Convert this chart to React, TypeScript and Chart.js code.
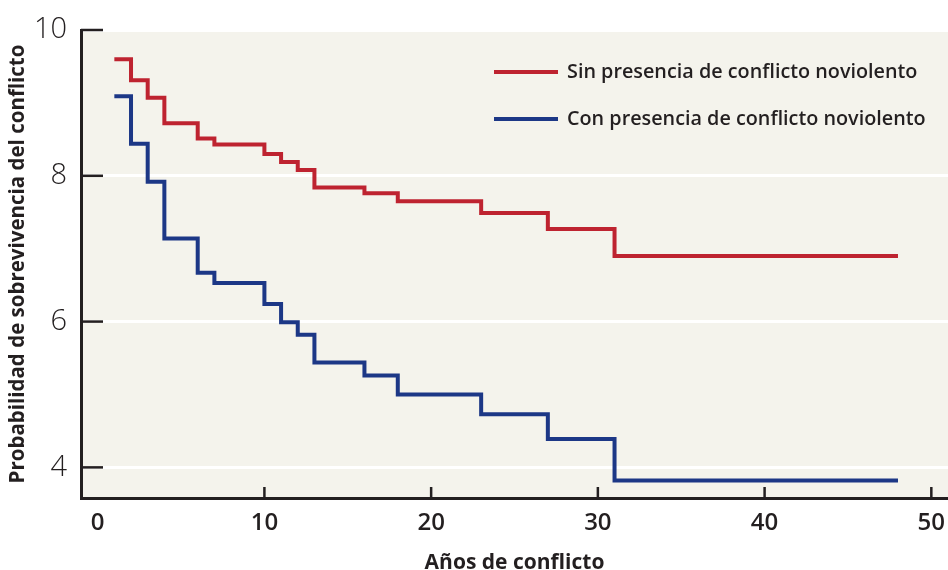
import React, { useEffect, useRef } from 'react';
import { Chart, registerables } from 'chart.js';

Chart.register(...registerables);

// ---- data ----
const years = [1, 2, 3, 4, 6, 7, 10, 11, 12, 13, 16, 18, 23, 27, 31, 48];
const sinConflicto = [9.6, 9.31, 9.07, 8.72, 8.51, 8.43, 8.3, 8.19, 8.08, 7.84, 7.76, 7.65, 7.49, 7.27, 6.9, 6.9];
const conConflicto = [9.09, 8.44, 7.92, 7.14, 6.67, 6.53, 6.24, 5.99, 5.82, 5.44, 5.26, 5.0, 4.73, 4.39, 3.82, 3.82];
const seriesLabels = ['Sin presencia de conflicto noviolento', 'Con presencia de conflicto noviolento'];
const xTicks = [0, 10, 20, 30, 40, 50];
const yTicks = [4, 6, 8, 10];
const xTitle = 'Años de conflicto';
const yTitle = 'Probabilidad de sobrevivencia del conflicto';

const INK = '#231f20';
const RED = '#be2330';
const BLUE = '#1c3786';
const BG = '#f4f3ec';
const FONT = '"Open Sans", sans-serif';

const bgPlugin = {
  id: 'plotBg',
  beforeDraw(chart: any) {
    const { ctx, chartArea: a } = chart;
    ctx.save();
    ctx.fillStyle = BG;
    ctx.fillRect(a.left, a.top, a.right - a.left, a.bottom - a.top);
    ctx.restore();
  },
};

const tickPlugin = {
  id: 'innerTicks',
  afterDraw(chart: any) {
    const { ctx, chartArea: a, scales } = chart;
    ctx.save();
    ctx.strokeStyle = INK;
    ctx.lineWidth = 2.5;
    yTicks.forEach((v) => {
      const y = scales.y.getPixelForValue(v);
      ctx.beginPath();
      ctx.moveTo(a.left, y);
      ctx.lineTo(a.left + 22, y);
      ctx.stroke();
    });
    xTicks.filter((v) => v !== 0).forEach((v) => {
      const x = scales.x.getPixelForValue(v);
      ctx.beginPath();
      ctx.moveTo(x, a.bottom);
      ctx.lineTo(x, a.bottom - 11);
      ctx.stroke();
    });
    ctx.restore();
  },
};

const legendPlugin = {
  id: 'inlineLegend',
  afterDraw(chart: any) {
    const { ctx } = chart;
    ctx.save();
    chart.data.datasets.forEach((ds: any, i: number) => {
      const y = 72 + i * 47;
      ctx.strokeStyle = ds.borderColor;
      ctx.lineWidth = 4;
      ctx.beginPath();
      ctx.moveTo(494, y);
      ctx.lineTo(558, y);
      ctx.stroke();
      ctx.fillStyle = INK;
      ctx.font = `600 19.8px ${FONT}`;
      ctx.textBaseline = 'middle';
      ctx.textAlign = 'left';
      ctx.fillText(ds.label, 567, y);
    });
    ctx.restore();
  },
};

const zeroPad = (s: any) => {
  s.paddingLeft = 0;
  s.paddingRight = 0;
  s.paddingTop = 0;
  s.paddingBottom = 0;
};

export default function App() {
  const ref = useRef<HTMLCanvasElement | null>(null);

  useEffect(() => {
    document.body.style.margin = '0';
    const canvas = ref.current!;
    const chart = new Chart(canvas, {
      type: 'line',
      data: {
        datasets: [
          {
            label: seriesLabels[0],
            data: years.map((x, i) => ({ x, y: sinConflicto[i] })),
            borderColor: RED,
            backgroundColor: RED,
          },
          {
            label: seriesLabels[1],
            data: years.map((x, i) => ({ x, y: conConflicto[i] })),
            borderColor: BLUE,
            backgroundColor: BLUE,
          },
        ].map((d) => ({
          ...d,
          stepped: 'before' as const,
          borderWidth: 4,
          pointRadius: 0,
          fill: false,
          borderJoinStyle: 'miter' as const,
          borderCapStyle: 'butt' as const,
          tension: 0,
        })),
      },
      options: {
        animation: false,
        responsive: false,
        maintainAspectRatio: false,
        layout: { padding: { top: 30, right: 0, left: 0, bottom: 0 } },
        font: { family: FONT },
        plugins: {
          legend: { display: false },
          tooltip: { enabled: false },
        },
        scales: {
          x: {
            type: 'linear',
            min: -1,
            max: 51,
            afterBuildTicks: (s: any) => {
              s.ticks = xTicks.map((v) => ({ value: v }));
            },
            afterFit: (s: any) => {
              s.height = 72;
              zeroPad(s);
            },
            grid: { display: false, drawTicks: false },
            border: { display: true, color: INK, width: 3 },
            ticks: {
              padding: 11,
              color: INK,
              font: { family: FONT, size: 24, weight: 600 },
            },
            title: {
              display: true,
              text: xTitle,
              color: INK,
              font: { family: FONT, size: 21, weight: 'bold', lineHeight: 0.62 },
              padding: { top: 0, bottom: 0 },
            },
          },
          y: {
            type: 'linear',
            min: 3.58,
            max: 10,
            afterBuildTicks: (s: any) => {
              s.ticks = yTicks.map((v) => ({ value: v }));
            },
            afterFit: (s: any) => {
              s.width = 81;
              zeroPad(s);
            },
            grid: { color: '#ffffff', lineWidth: 3, drawTicks: false },
            border: { display: true, color: INK, width: 3 },
            ticks: {
              padding: 14,
              color: INK,
              font: { family: FONT, size: 29, weight: 300 },
            },
            title: {
              display: true,
              text: yTitle,
              color: INK,
              font: { family: FONT, size: 20.5, weight: 'bold', lineHeight: 1 },
              padding: { top: 8, bottom: 0 },
            },
          },
        },
      } as any,
      plugins: [bgPlugin, tickPlugin, legendPlugin],
    });
    return () => chart.destroy();
  }, []);

  return (
    <div style={{ position: 'absolute', left: 0, top: 0, width: 948, height: 570 }}>
      <canvas ref={ref} width={948} height={570} style={{ width: 948, height: 570, display: 'block' }} />
    </div>
  );
}
